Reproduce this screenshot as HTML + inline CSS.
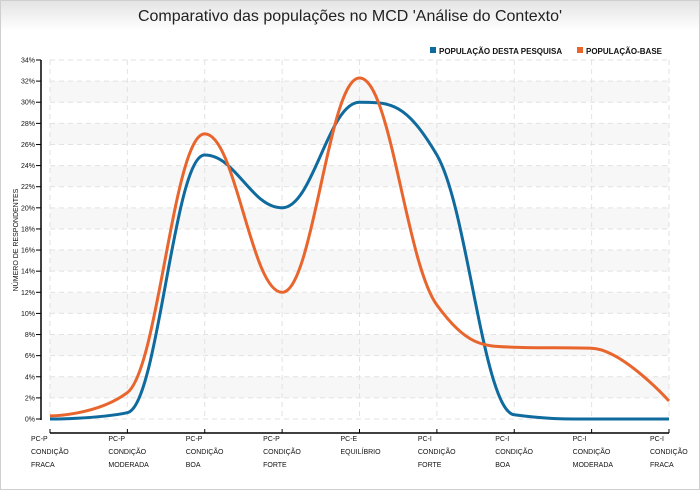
<!DOCTYPE html>
<html><head><meta charset="utf-8"><style>
body{margin:0;background:#fff}
#c{position:relative;width:700px;height:490px;overflow:hidden}
text{font-family:"Liberation Sans",sans-serif}
</style></head><body>
<div id="c">
<svg id="s" width="700" height="490" xmlns="http://www.w3.org/2000/svg">
<defs><linearGradient id="g" x1="0" y1="0" x2="0" y2="1"><stop offset="0" stop-color="#e4e4e4"/><stop offset="1" stop-color="#ffffff"/></linearGradient></defs>
<rect x="0.5" y="0.5" width="699" height="489" fill="#fff" stroke="#cfcfcf"/>
<rect x="1" y="1" width="698" height="30" fill="url(#g)"/>
<text x="350" y="21" text-anchor="middle" font-size="16" fill="#222">Comparativo das populações no MCD 'Análise do Contexto'</text>
<g>
<rect x="430" y="47" width="6" height="6" fill="#0f6a9e"/>
<text x="439" y="54" font-size="8" font-weight="bold" fill="#111">POPULAÇÃO DESTA PESQUISA</text>
<rect x="577" y="47" width="6" height="6" fill="#e8662e"/>
<text x="586" y="54" font-size="8" font-weight="bold" fill="#111">POPULAÇÃO-BASE</text>
</g>
<g id="plot"></g>
<text transform="translate(18,240) rotate(-90)" text-anchor="middle" font-size="7" fill="#111">NÚMERO DE RESPONDENTES</text>
</svg>
</div>
<script>
const categories=[["PC-P","CONDIÇÃO","FRACA"],["PC-P","CONDIÇÃO","MODERADA"],["PC-P","CONDIÇÃO","BOA"],["PC-P","CONDIÇÃO","FORTE"],["PC-E","EQUILÍBRIO",""],["PC-I","CONDIÇÃO","FORTE"],["PC-I","CONDIÇÃO","BOA"],["PC-I","CONDIÇÃO","MODERADA"],["PC-I","CONDIÇÃO","FRACA"]];
const pesquisa=[0,0.6,25,20,30,25,0.4,0,0];
const base=[0.3,2.5,27,12,32.3,10.8,6.8,6.7,1.7];
const yTicks=[0,2,4,6,8,10,12,14,16,18,20,22,24,26,28,30,32,34];

const NS="http://www.w3.org/2000/svg";
const P=document.getElementById('plot');
const x0=50,x1=669,yb=419,yt=60;
const X=i=>x0+i*(x1-x0)/(categories.length-1);
const Y=v=>yb-(v/34)*(yb-yt);
function mk(t,a,parent){const e=document.createElementNS(NS,t);for(const k in a)e.setAttribute(k,a[k]);(parent||P).appendChild(e);return e;}
for(let i=1;i<yTicks.length-1;i+=2){
 if(yTicks[i]%4!==2)continue;
 const b=mk('rect',{x:x0,y:Y(yTicks[i+1]),width:x1-x0,height:Y(yTicks[i])-Y(yTicks[i+1]),fill:'#f7f7f7'});
 
 
}
yTicks.forEach(v=>{
 const g=mk('line',{x1:x0,x2:x1,y1:Y(v),y2:Y(v),stroke:'#e2e2e2','stroke-dasharray':'5,4'});
 
 
 mk('line',{x1:36,x2:41,y1:Y(v),y2:Y(v),stroke:'#000'});
 const t=mk('text',{x:35,y:Y(v)+2.5,'text-anchor':'end','font-size':'7',fill:'#111'});
 t.textContent=v+'%';
 
 
});
categories.forEach((c,i)=>{
 const g=mk('line',{x1:X(i),x2:X(i),y1:yt,y2:yb,stroke:'#e2e2e2','stroke-dasharray':'5,4'});
 
 
 mk('line',{x1:X(i),x2:X(i),y1:429,y2:433,stroke:'#000'});
 c.forEach((s,k)=>{
  const t=mk('text',{x:X(i)-19,y:441+k*13,'font-size':'7',fill:'#111'});
  t.textContent=s;
  
  
 });
});
const ya=mk('line',{x1:41,x2:41,y1:yt,y2:yb+1,stroke:'#000','stroke-width':1.5});


const xa=mk('line',{x1:x0,x2:x1,y1:433,y2:433,stroke:'#000','stroke-width':1.5});


// Highcharts-style spline
function path(vals){
 const p=vals.map((v,i)=>({x:X(i),y:Y(v)}));
 const sm=1.5,den=sm+1;
 for(let i=1;i<p.length-1;i++){
  const a=p[i-1],b=p[i],c=p[i+1];
  let lx=(sm*b.x+a.x)/den,ly=(sm*b.y+a.y)/den,rx=(sm*b.x+c.x)/den,ry=(sm*b.y+c.y)/den;
  const corr=((ry-ly)*(rx-b.x))/(rx-lx)+b.y-ry;
  ly+=corr;ry+=corr;
  if(ly>a.y&&ly>b.y){ly=Math.max(a.y,b.y);ry=2*b.y-ly;}
  else if(ly<a.y&&ly<b.y){ly=Math.min(a.y,b.y);ry=2*b.y-ly;}
  if(ry>c.y&&ry>b.y){ry=Math.max(c.y,b.y);ly=2*b.y-ry;}
  else if(ry<c.y&&ry<b.y){ry=Math.min(c.y,b.y);ly=2*b.y-ry;}
  b.lx=lx;b.ly=ly;b.rx=rx;b.ry=ry;
 }
 let d='M'+p[0].x+','+p[0].y;
 for(let i=1;i<p.length;i++){
  const a=p[i-1],b=p[i];
  d+=` C${a.rx??a.x},${a.ry??a.y} ${b.lx??b.x},${b.ly??b.y} ${b.x},${b.y}`;
 }
 return d;
}
const l1=mk('path',{d:path(pesquisa),fill:'none',stroke:'#0f6a9e','stroke-width':3});


const l2=mk('path',{d:path(base),fill:'none',stroke:'#e8662e','stroke-width':3});


</script>
</body></html>
